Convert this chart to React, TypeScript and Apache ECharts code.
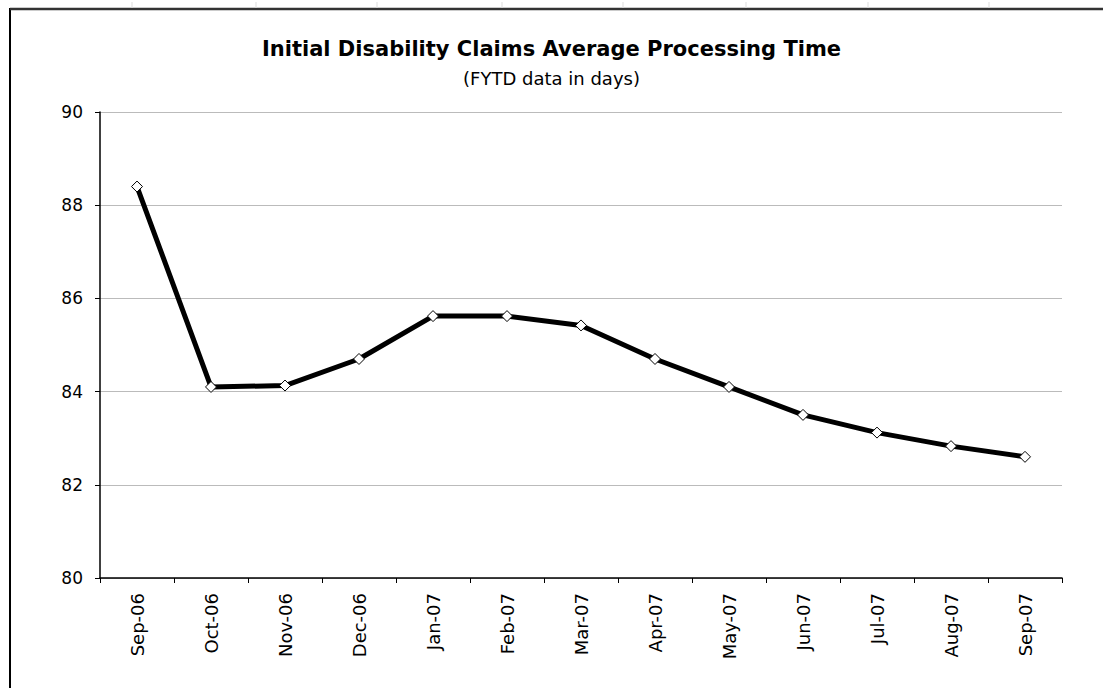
import React, { useEffect, useRef } from "react";
import * as echarts from "echarts";

const categories = ["Sep-06", "Oct-06", "Nov-06", "Dec-06", "Jan-07", "Feb-07", "Mar-07", "Apr-07", "May-07", "Jun-07", "Jul-07", "Aug-07", "Sep-07"];
const values = [88.4, 84.1, 84.13, 84.7, 85.62, 85.62, 85.42, 84.7, 84.1, 83.5, 83.12, 82.83, 82.6];
const titleText = "Initial Disability Claims Average Processing Time";
const subtitleText = "(FYTD data in days)";
const sheetColumnMarks = [132, 256, 377, 502, 623, 746, 868, 989];

export default function App() {
  const ref = useRef<HTMLDivElement>(null);
  useEffect(() => {
    if (!ref.current) return;
    const chart = echarts.init(ref.current, undefined, { renderer: "svg" });
    const font = "'DejaVu Sans', Verdana, sans-serif";
    chart.setOption({
      animation: false,
      backgroundColor: "#ffffff",
      graphic: [
        {
          type: "rect",
          shape: { x: 10, y: 9, width: 1120, height: 700 },
          style: { fill: "none", stroke: "#000", lineWidth: 2 },
          silent: true,
        },
        {
          type: "line",
          shape: { x1: 10, y1: 9, x2: 1103, y2: 9 },
          style: { stroke: "#333", lineWidth: 2.5 },
          silent: true,
        },
        ...sheetColumnMarks.map((x) => ({
          type: "line",
          shape: { x1: x, y1: 2, x2: x, y2: 8 },
          style: { stroke: "#dddddd", lineWidth: 1 },
          silent: true,
        })),
      ],
      title: [
        {
          text: titleText,
          left: "center",
          top: 33,
          textStyle: { fontFamily: font, fontWeight: "bold", fontSize: 21, color: "#000" },
        },
        {
          text: subtitleText,
          left: "center",
          top: 64,
          textStyle: { fontFamily: font, fontWeight: "normal", fontSize: 18, color: "#000" },
        },
      ],
      grid: { left: 100, right: 41, top: 112, bottom: 110, containLabel: false },
      xAxis: {
        type: "category",
        data: categories,
        boundaryGap: true,
        axisLine: { lineStyle: { color: "#000", width: 1.5 } },
        axisTick: { show: true, length: 5, lineStyle: { color: "#000" } },
        axisLabel: { rotate: 90, margin: 15, fontFamily: font, fontSize: 18, color: "#000" },
      },
      yAxis: {
        type: "value",
        min: 80,
        max: 90,
        interval: 2,
        axisLine: { show: true, lineStyle: { color: "#000", width: 1.5 } },
        axisTick: { show: true, length: 5, lineStyle: { color: "#000" } },
        axisLabel: { margin: 17, fontFamily: font, fontSize: 17, color: "#000" },
        splitLine: { show: true, lineStyle: { color: "#bbbbbb", width: 1 } },
      },
      series: [
        {
          type: "line",
          data: values,
          lineStyle: { color: "#000", width: 5 },
          symbol: "diamond",
          symbolSize: 11,
          showAllSymbol: true,
          itemStyle: { color: "#ffffff", borderColor: "#000", borderWidth: 1 },
          z: 3,
        },
      ],
    });
    return () => chart.dispose();
  }, []);
  return (
    <div
      ref={ref}
      style={{ position: "fixed", left: 0, top: 0, width: 1103, height: 688, background: "#fff" }}
    />
  );
}
